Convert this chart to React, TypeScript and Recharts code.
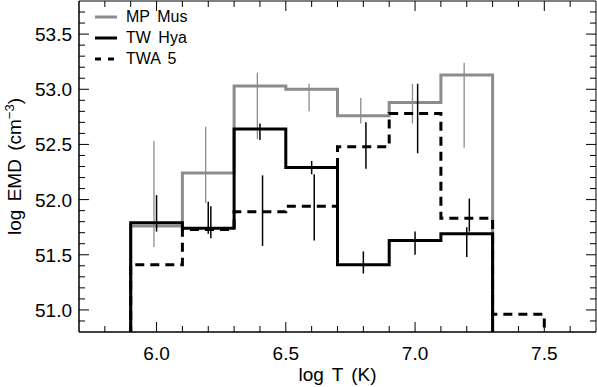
import {
  ComposedChart,
  Line,
  Scatter,
  ErrorBar,
  XAxis,
  YAxis,
  Legend,
  Label,
  ReferenceArea,
} from "recharts";

const FONT = "'Liberation Sans', Arial, Helvetica, sans-serif";
const GRAY = "#8c8c8c";

// log T bin edges
const binEdges = [5.9, 6.1, 6.3, 6.5, 6.7, 6.9, 7.1, 7.3];
const twa5Edges = [5.9, 6.1, 6.3, 6.5, 6.7, 6.9, 7.1, 7.3, 7.5];

// log EMD per bin
const mpMusEmd = [51.76, 52.24, 53.03, 53.0, 52.76, 52.88, 53.13];
const twHyaEmd = [51.79, 51.74, 52.64, 52.29, 51.41, 51.63, 51.69];
const twa5Emd = [51.41, 51.73, 51.89, 51.94, 52.48, 52.78, 51.83, 50.96];

// histograms drop below the axis at both ends
const histFloor = 50.5;

// error bars: position, lower end, upper end
const mpMusErrX = [5.99, 6.19, 6.39, 6.59, 6.79, 6.99, 7.19];
const mpMusErrLo = [51.57, 51.97, 52.55, 52.8, 52.69, 52.69, 52.47];
const mpMusErrHi = [52.53, 52.66, 53.15, 53.05, 52.92, 53.05, 53.24];

const twHyaErrX = [6.0, 6.2, 6.4, 6.6, 6.8, 7.0, 7.2];
const twHyaErrLo = [51.71, 51.69, 52.54, 52.23, 51.33, 51.5, 51.48];
const twHyaErrHi = [52.04, 51.98, 52.69, 52.35, 51.53, 51.71, 51.75];

const twa5ErrX = [6.21, 6.41, 6.61, 6.81, 7.01, 7.21];
const twa5ErrLo = [51.65, 51.58, 51.63, 52.28, 52.42, 51.71];
const twa5ErrHi = [51.94, 52.22, 52.23, 52.7, 53.05, 52.01];

// axes
const xDomain = [5.7, 7.7];
const yDomain = [50.8, 53.8];
const xMajorTicks = [6.0, 6.5, 7.0, 7.5];
const xMinorTicks = [5.8, 5.9, 6.1, 6.2, 6.3, 6.4, 6.6, 6.7, 6.8, 6.9, 7.1, 7.2, 7.3, 7.4, 7.6];
const yMajorTicks = [51.0, 51.5, 52.0, 52.5, 53.0, 53.5];
const yMinorTicks = [
  50.9, 51.1, 51.2, 51.3, 51.4, 51.6, 51.7, 51.8, 51.9, 52.1, 52.2, 52.3,
  52.4, 52.6, 52.7, 52.8, 52.9, 53.1, 53.2, 53.3, 53.4, 53.6, 53.7,
];

const seriesNames = ["MP Mus", "TW Hya", "TWA 5"];

// layout
const W = 597;
const H = 387;
const MARGIN = { top: 1, right: 1, bottom: 0, left: 0 };
const X_AXIS_H = 55;
const Y_AXIS_W = 79;
const PLOT_TOP = MARGIN.top;
const PLOT_BOTTOM = H - MARGIN.bottom - X_AXIS_H;
const PLOT_LEFT = MARGIN.left + Y_AXIS_W;
const PLOT_RIGHT = W - MARGIN.right;
const MAJOR_LEN = 10;
const MINOR_LEN = 6;

function histogram(edges: number[], values: number[]) {
  const pts = [{ x: edges[0], y: histFloor }];
  values.forEach((v, i) => pts.push({ x: edges[i], y: v }));
  pts.push({ x: edges[edges.length - 1], y: values[values.length - 1] });
  pts.push({ x: edges[edges.length - 1], y: histFloor });
  return pts;
}

function errorBars(xs: number[], lo: number[], hi: number[]) {
  return xs.map((x, i) => ({ x, y: lo[i], err: [0, hi[i] - lo[i]] }));
}

const mpMusHist = histogram(binEdges, mpMusEmd);
const twHyaHist = histogram(binEdges, twHyaEmd);
const twa5Hist = histogram(twa5Edges, twa5Emd);

const mpMusErr = errorBars(mpMusErrX, mpMusErrLo, mpMusErrHi);
const twHyaErr = errorBars(twHyaErrX, twHyaErrLo, twHyaErrHi);
const twa5Err = errorBars(twa5ErrX, twa5ErrLo, twa5ErrHi);

const allXTicks = [...xMajorTicks, ...xMinorTicks].sort((a, b) => a - b);
const allYTicks = [...yMajorTicks, ...yMinorTicks].sort((a, b) => a - b);

const legendStyles = [
  { color: GRAY, dash: undefined },
  { color: "#000", dash: undefined },
  { color: "#000", dash: "6 7" },
];

function renderLegend() {
  return (
    <div style={{ fontFamily: FONT, fontSize: 16, color: "#000" }}>
      {seriesNames.map((name, i) => (
        <div
          key={name}
          style={{ display: "flex", alignItems: "center", height: 21.3 }}
        >
          <svg width={22} height={6} style={{ marginRight: 9 }}>
            <line
              x1={0}
              x2={22}
              y1={3}
              y2={3}
              stroke={legendStyles[i].color}
              strokeWidth={3}
              strokeDasharray={legendStyles[i].dash}
            />
          </svg>
          <span style={{ wordSpacing: 3 }}>{name}</span>
        </div>
      ))}
    </div>
  );
}

// IDL-style ticks: inward marks on both opposite sides, label on majors only
function XTick({ x, payload }: any) {
  const major = xMajorTicks.includes(payload.value);
  const len = major ? MAJOR_LEN : MINOR_LEN;
  return (
    <g>
      <line x1={x} x2={x} y1={PLOT_BOTTOM} y2={PLOT_BOTTOM - len} stroke="#000" />
      <line x1={x} x2={x} y1={PLOT_TOP} y2={PLOT_TOP + len} stroke="#000" />
      {major && (
        <text x={x} y={PLOT_BOTTOM + 28} textAnchor="middle" fontSize={19} fontFamily={FONT} fill="#000">
          {payload.value.toFixed(1)}
        </text>
      )}
    </g>
  );
}

function YTick({ y, payload }: any) {
  const major = yMajorTicks.includes(payload.value);
  const len = major ? MAJOR_LEN : MINOR_LEN;
  return (
    <g>
      <line x1={PLOT_LEFT} x2={PLOT_LEFT + len} y1={y} y2={y} stroke="#000" />
      <line x1={PLOT_RIGHT} x2={PLOT_RIGHT - len} y1={y} y2={y} stroke="#000" />
      {major && (
        <text x={PLOT_LEFT - 7} y={y + 7} textAnchor="end" fontSize={19} fontFamily={FONT} fill="#000">
          {payload.value.toFixed(1)}
        </text>
      )}
    </g>
  );
}

const noShape = () => <g />;

export default function App() {
  return (
    <div style={{ position: "absolute", left: 0, top: 0 }}>
      <ComposedChart width={W} height={H} margin={MARGIN} style={{ fontFamily: FONT }}>
        <XAxis
          dataKey="x"
          type="number"
          domain={xDomain}
          ticks={allXTicks}
          interval={0}
          allowDataOverflow
          height={X_AXIS_H}
          tick={<XTick />}
          tickLine={false}
          tickSize={0}
          axisLine={{ stroke: "#000" }}
        >
          <Label
            content={({ viewBox }: any) => (
              <text
                x={viewBox.x + viewBox.width / 2}
                y={viewBox.y + 49}
                textAnchor="middle"
                fontSize={19}
                fontFamily={FONT}
                wordSpacing={3}
                fill="#000"
              >
                log T (K)
              </text>
            )}
          />
        </XAxis>
        <YAxis
          type="number"
          domain={yDomain}
          ticks={allYTicks}
          interval={0}
          allowDataOverflow
          width={Y_AXIS_W}
          tick={<YTick />}
          tickLine={false}
          tickSize={0}
          axisLine={{ stroke: "#000" }}
        >
          <Label
            content={({ viewBox }: any) => {
              const cx = viewBox.x + 21;
              const cy = viewBox.y + viewBox.height / 2;
              return (
                <text
                  x={cx}
                  y={cy}
                  transform={`rotate(-90, ${cx}, ${cy})`}
                  textAnchor="middle"
                  fontSize={19}
                  fontFamily={FONT}
                  wordSpacing={3}
                  fill="#000"
                >
                  log EMD (cm
                  <tspan dy={-7} fontSize={13}>
                    −3
                  </tspan>
                  <tspan dy={7}>)</tspan>
                </text>
              );
            }}
          />
        </YAxis>

        {/* plot frame */}
        <ReferenceArea
          x1={xDomain[0]}
          x2={xDomain[1]}
          y1={yDomain[0]}
          y2={yDomain[1]}
          fill="none"
          stroke="#000"
          strokeWidth={1}
        />

        <Legend
          content={renderLegend}
          layout="vertical"
          align="center"
          verticalAlign="middle"
          wrapperStyle={{ position: "absolute", top: 6, left: 95, width: 120 }}
        />

        <Line
          data={mpMusHist}
          dataKey="y"
          type="stepAfter"
          stroke={GRAY}
          strokeWidth={3}
          strokeLinejoin="miter"
          dot={false}
          isAnimationActive={false}
        />
        <Scatter data={mpMusErr} dataKey="y" shape={noShape} isAnimationActive={false}>
          <ErrorBar dataKey="err" direction="y" width={0} stroke={GRAY} strokeWidth={1.3} />
        </Scatter>

        <Line
          data={twHyaHist}
          dataKey="y"
          type="stepAfter"
          stroke="#000"
          strokeWidth={3}
          strokeLinejoin="miter"
          dot={false}
          isAnimationActive={false}
        />
        <Scatter data={twHyaErr} dataKey="y" shape={noShape} isAnimationActive={false}>
          <ErrorBar dataKey="err" direction="y" width={0} stroke="#000" strokeWidth={1.5} />
        </Scatter>

        <Line
          data={twa5Hist}
          dataKey="y"
          type="stepAfter"
          stroke="#000"
          strokeWidth={3}
          strokeDasharray="9 6"
          strokeLinejoin="miter"
          dot={false}
          isAnimationActive={false}
        />
        <Scatter data={twa5Err} dataKey="y" shape={noShape} isAnimationActive={false}>
          <ErrorBar dataKey="err" direction="y" width={0} stroke="#000" strokeWidth={1.5} />
        </Scatter>
      </ComposedChart>
    </div>
  );
}
